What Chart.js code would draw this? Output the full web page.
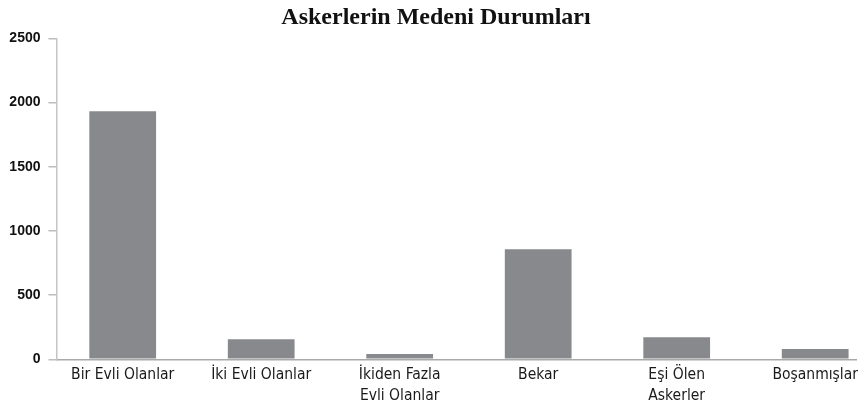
<!DOCTYPE html>
<html>
<head>
<meta charset="utf-8">
<script src="https://cdn.jsdelivr.net/npm/chart.js@4/dist/chart.umd.min.js"></script>
<style>
  html, body { margin: 0; padding: 0; background: #fff; }
  #wrap { width: 864px; height: 408px; }
</style>
</head>
<body>
<div id="wrap"><canvas id="c" width="864" height="408"></canvas></div>
<script>
const chartTitle = "Askerlerin Medeni Durumları";
const categories = [
  "Bir Evli Olanlar",
  "İki Evli Olanlar",
  ["İkiden Fazla", "Evli Olanlar"],
  "Bekar",
  ["Eşi Ölen", "Askerler"],
  "Boşanmışlar"
];
const soldierCounts = [1931, 157, 41, 858, 172, 80];
const yTicks = [0, 500, 1000, 1500, 2000, 2500];
const categoryIndex = categories.map((c, i) => i);

new Chart(document.getElementById('c'), {
  type: 'bar',
  data: {
    datasets: [{
      data: categoryIndex.map(i => ({ x: i, y: soldierCounts[i] })),
      backgroundColor: '#88898d',
      borderWidth: 0,
      barPercentage: 0.482,
      categoryPercentage: 1
    }]
  },
  options: {
    responsive: false,
    animation: false,
    layout: { padding: { top: 1.5, left: 8, right: 0, bottom: 3.7 } },
    plugins: {
      legend: { display: false },
      tooltip: { enabled: false },
      title: {
        display: true,
        text: chartTitle,
        color: '#111',
        font: { family: "'Liberation Serif', 'Times New Roman', serif", size: 24, weight: 'bold', lineHeight: 1.2 },
        padding: { top: 2, bottom: 6 }
      }
    },
    scales: {
      x: {
        type: 'linear',
        offset: false,
        min: -0.478,
        max: 5.298,
        afterBuildTicks: (axis) => { axis.ticks = categoryIndex.map(v => ({ value: v })); },
        afterFit: (scale) => { scale.height = 45; },
        grid: { display: false, drawTicks: false },
        border: { display: true, color: '#a9a9a9', width: 1.5 },
        ticks: {
          autoSkip: false,
          maxRotation: 0,
          minRotation: 0,
          padding: 6,
          color: '#1a1a1a',
          callback: (v) => categories[v],
          font: { family: "'DejaVu Sans Condensed', 'Liberation Sans Narrow', sans-serif", size: 15.5, lineHeight: 1.3 }
        }
      },
      y: {
        min: 0,
        max: 2500,
        afterBuildTicks: (axis) => { axis.ticks = yTicks.map(v => ({ value: v })); },
        afterFit: (scale) => { scale.width = 48.5; },
        grid: { drawOnChartArea: false, drawTicks: true, tickLength: 8, color: '#bdbdbd', lineWidth: 1.5 },
        border: { display: true, color: '#c4c4c4', width: 1.5 },
        ticks: {
          padding: 8,
          color: '#111',
          callback: (v) => String(v),
          font: { family: "'Liberation Sans', Arial, sans-serif", size: 14, weight: 'bold' }
        }
      }
    }
  }
});
</script>
</body>
</html>
